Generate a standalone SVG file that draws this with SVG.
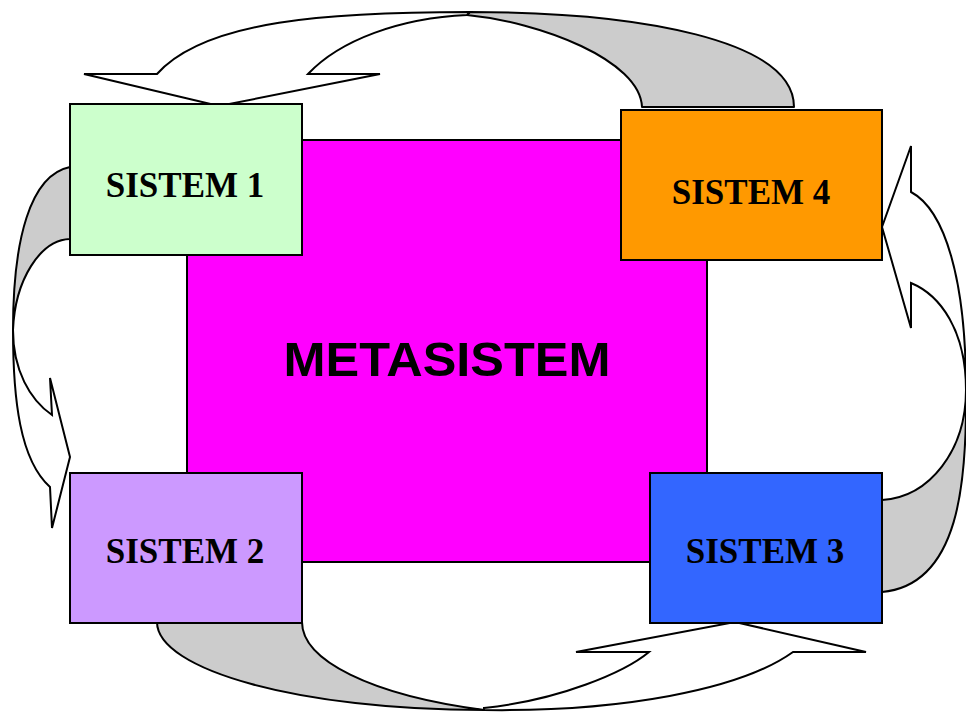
<svg xmlns="http://www.w3.org/2000/svg" width="966" height="713" viewBox="0 0 966 713">
<style>
.box{stroke:#000;stroke-width:2}
.lbl{font-family:"Liberation Serif","Times New Roman",serif;font-weight:bold;font-size:35px;fill:#000;text-anchor:middle}
.meta{font-family:"Liberation Sans",Arial,sans-serif;font-weight:bold;font-size:48px;fill:#000;text-anchor:middle}
.back{fill:#CCCCCC;stroke:#000;stroke-width:2;stroke-linejoin:round}
.front{fill:#FFFFFF;stroke:#000;stroke-width:2;stroke-linejoin:miter}
</style>
<rect width="966" height="713" fill="#FFFFFF"/>
<g id="metasistem">
<rect class="box" x="187" y="140" width="520" height="422" fill="#FF00FF"/>
<text class="meta" x="447" y="376" textLength="327" lengthAdjust="spacingAndGlyphs">METASISTEM</text>
</g>
<g id="connectors">
<g id="arrow-4-to-1">
<path class="back" d="M470,12 C640,12 794,40 794,107 L642,107 C640,60 540,22 467,15 Z"/>
<path class="front" d="M157,74 L84,74 L219,106 L380,74 L308,74 C340,40 400,18 467,15 L470,12 C330,12 205,20 157,74 Z"/>
</g>
<g id="arrow-1-to-2">
<path class="back" d="M70,167 C30,175 13,240 13,330 C15,280 40,240 70,239 Z"/>
<path class="front" d="M13,330 C13,400 20,460 50,487 L52,528 L70,457 L50,378 L52,415 C30,400 13,370 13,330 Z"/>
</g>
<g id="arrow-3-to-4">
<path class="back" d="M966,390 C967,480 960,585 882,592 L882,500 C930,497 966,450 966,390 Z"/>
<path class="front" d="M911,192 C945,210 966,280 966,390 C966,330 940,295 911,283 L911,328 L882,227 L911,146 Z"/>
</g>
<g id="arrow-2-to-3">
<path class="back" d="M157,622 C157,670 300,710 484,710 C370,695 302,660 302,622 Z"/>
<path class="front" d="M484,710 C620,712 740,690 793,652 L866,652 L735,622 L576,652 L649,652 C625,672 560,700 484,708 Z"/>
</g>
</g>
<g id="sistem1">
<rect class="box" x="70" y="104" width="232" height="151" fill="#CCFFCC"/>
<text class="lbl" x="185" y="197">SISTEM 1</text>
</g>
<g id="sistem4">
<rect class="box" x="621" y="110" width="261" height="150" fill="#FF9900"/>
<text class="lbl" x="751" y="204">SISTEM 4</text>
</g>
<g id="sistem2">
<rect class="box" x="70" y="473" width="232" height="150" fill="#CC99FF"/>
<text class="lbl" x="185" y="563">SISTEM 2</text>
</g>
<g id="sistem3">
<rect class="box" x="650" y="473" width="232" height="150" fill="#3366FF"/>
<text class="lbl" x="765" y="563">SISTEM 3</text>
</g>
</svg>
